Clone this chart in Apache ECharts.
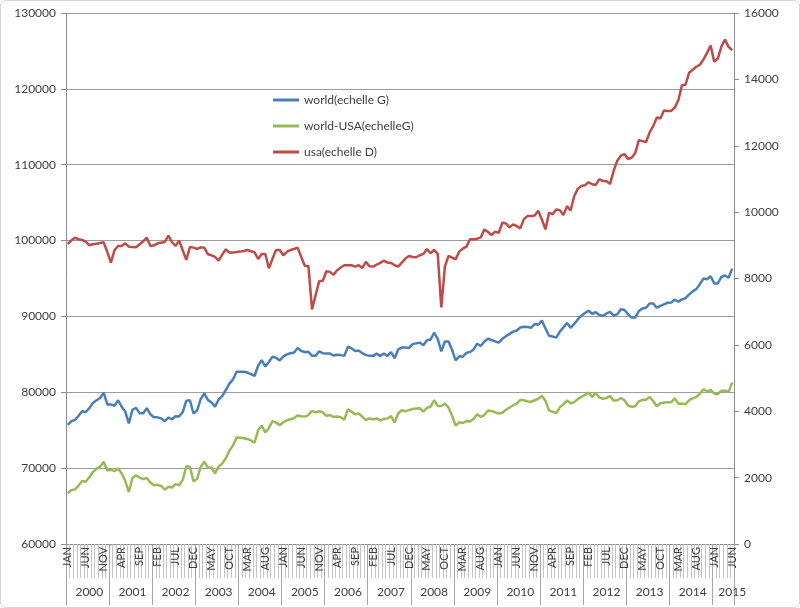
<!DOCTYPE html>
<html><head><meta charset="utf-8">
<script src="https://cdn.jsdelivr.net/npm/echarts@6/dist/echarts.min.js"></script>
<style>
html,body{margin:0;padding:0;background:#fff}
#c{width:800px;height:608px}
#frame{position:absolute;left:0;top:0;width:798px;height:606px;border:1px solid #d6d6d6;border-radius:6px;pointer-events:none}
</style>
</head><body><div id="c"></div><div id="frame"></div>
<script>
const monthNames = ['JAN','FEB','MAR','APR','MAY','JUN','JUL','AUG','SEP','OCT','NOV','DEC'];
const years = ['2000','2001','2002','2003','2004','2005','2006','2007','2008','2009','2010','2011','2012','2013','2014','2015'];
const monthCount = 186; // Jan 2000 .. Jun 2015

const world = [
75700,76200,76350,76900,77500,77400,77900,78600,78950,79250,79950,78400,
78400,78200,78950,78100,77450,75900,77700,77950,77250,77250,77900,77100,
76700,76700,76550,76200,76650,76450,76850,76800,77400,78900,78950,77200,
77600,79100,79850,79000,78650,78100,79050,79500,80300,81150,81700,82700,
82700,82700,82600,82400,82150,83500,84250,83400,84000,84700,84550,84200,
84700,85000,85150,85250,85850,85450,85300,85350,84800,84800,85400,85150,
85100,85100,84850,84950,84900,84800,86000,85800,85450,85500,85150,84900,
84800,84800,85100,84800,85100,84800,85300,84500,85650,85900,85900,85850,
86350,86450,86550,86200,86850,86950,87850,87050,85400,86700,86700,85600,
84200,84750,84700,85200,85300,85650,86400,86100,86700,87050,86900,86700,
86550,87050,87400,87700,88000,88150,88550,88650,88600,88500,89000,88900,
89450,88400,87450,87350,87200,88000,88550,89150,88500,89000,89600,90100,
90450,90750,90350,90550,90200,90050,90400,90600,90100,90300,90950,90850,
90300,89850,89850,90700,91050,91150,91700,91700,91150,91400,91600,91800,
91850,92200,91950,92250,92400,92900,93300,93600,94250,95000,94900,95300,
94350,94350,95200,95400,95100,96300
];
const worldExUSA = [
66700,67100,67200,67700,68300,68200,68800,69500,69900,70200,70850,69700,
69800,69600,69950,69300,68300,66850,68700,69050,68750,68550,68700,68100,
67750,67800,67650,67150,67550,67450,67900,67750,68450,70250,70200,68250,
68600,70150,70850,70100,70050,69300,70200,70600,71300,72300,73000,74050,
74000,73950,73850,73650,73350,75000,75600,74700,75300,76200,76000,75650,
76050,76300,76450,76600,76950,76850,76800,77000,77550,77350,77500,77350,
76900,77000,76750,76800,76700,76400,77750,77450,77100,77200,76800,76350,
76550,76450,76550,76300,76500,76550,76850,76000,77200,77650,77500,77650,
77800,77850,77900,77450,77950,78100,78950,78200,78200,78500,78000,76900,
75600,76050,75950,76200,76150,76500,77100,76750,77000,77600,77550,77350,
77200,77300,77700,78000,78300,78500,79000,78950,78800,78750,78950,79150,
79500,78900,77600,77450,77250,78000,78450,78900,78550,78700,79100,79400,
79650,79950,79400,79900,79300,79150,79250,79500,78900,78950,79250,78950,
78250,78100,78150,78800,79000,79000,79400,78850,78150,78550,78650,78700,
78700,79200,78500,78500,78450,78950,79200,79400,79800,80400,80100,80300,
79850,79750,80200,80200,80050,81300
];
const usa = [
9040,9150,9230,9180,9160,9110,9000,9030,9050,9070,9090,8800,
8480,8850,8980,8980,9060,8960,8950,8940,9030,9120,9230,8980,
9000,9060,9080,9100,9290,9100,8980,9140,8850,8560,8950,8930,
8890,8940,8930,8730,8700,8650,8540,8720,8880,8780,8780,8800,
8810,8830,8860,8820,8790,8590,8740,8740,8310,8600,8860,8860,
8700,8800,8860,8890,8930,8650,8380,8380,7070,7500,7920,7930,
8220,8200,8110,8250,8330,8400,8400,8400,8360,8400,8320,8500,
8370,8360,8420,8470,8540,8480,8470,8400,8360,8480,8600,8680,
8650,8640,8700,8740,8890,8760,8860,8740,7130,8360,8680,8630,
8580,8810,8900,8960,9180,9180,9200,9240,9480,9400,9310,9410,
9380,9680,9660,9540,9630,9580,9510,9790,9880,9880,9900,10040,
9780,9480,9980,9940,10080,10060,9910,10180,10050,10480,10700,10790,
10810,10900,10840,10820,10990,10940,10930,10850,11250,11550,11700,11750,
11600,11640,11780,12170,12140,12110,12400,12590,12850,12820,13060,13050,
13050,13150,13370,13820,13840,14200,14290,14380,14440,14600,14800,15020,
14530,14630,14990,15200,14980,14880
];
const seriesNames = ['world(echelle G)', 'world-USA(echelleG)', 'usa(echelle D)'];

// categories built from the month and year lists
const monthCats = [], yearCats = [];
for (let i = 0; i < monthCount; i++) {
  monthCats.push(monthNames[i % 12]);
  yearCats.push(years[Math.floor(i / 12)]);
}

const FONT = 'Lato, "Liberation Sans", sans-serif';
const TXT = '#404040';
const plain = function (v) { return String(v); };
const chart = echarts.init(document.getElementById('c'), null, {renderer: 'canvas'});
chart.setOption({
  animation: false,
  backgroundColor: '#ffffff',
  grid: {left: 66, right: 66, top: 13, bottom: 64, containLabel: false},
  legend: {
    orient: 'vertical', left: 268, top: 89, itemGap: 14,
    itemWidth: 26, itemHeight: 3, icon: 'rect',
    textStyle: {fontFamily: FONT, fontSize: 12, color: TXT},
    data: seriesNames
  },
  xAxis: [
    {
      type: 'category', data: monthCats, boundaryGap: true, position: 'bottom',
      axisLine: {show: true, lineStyle: {color: '#8c8c8c', width: 1}},
      axisTick: {show: true, interval: 0, length: 34, lineStyle: {color: '#c4c4c4', width: 1}},
      axisLabel: {interval: 4, rotate: 90, fontSize: 11, margin: 3, color: TXT, fontFamily: FONT},
      splitLine: {show: false}
    },
    {
      type: 'category', data: yearCats, boundaryGap: true, position: 'bottom', offset: 0,
      axisLine: {show: false},
      axisTick: {show: true, length: 61, interval: function (i) { return i % 12 === 0; },
                 lineStyle: {color: '#a6a6a6', width: 1}},
      axisLabel: {interval: function (i) { return i % 12 === 6 || i === monthCount - 1; },
                  fontSize: 12, margin: 42, color: TXT, fontFamily: FONT},
      splitLine: {show: false}
    }
  ],
  yAxis: [
    {
      type: 'value', position: 'left', min: 60000, max: 130000, interval: 10000,
      axisLine: {show: true, lineStyle: {color: '#8c8c8c'}},
      axisTick: {show: true, length: 5, lineStyle: {color: '#8c8c8c'}},
      axisLabel: {fontSize: 12, margin: 10, color: TXT, fontFamily: FONT, formatter: plain},
      splitLine: {show: true, lineStyle: {color: '#9c9c9c', width: 1}}
    },
    {
      type: 'value', position: 'right', min: 0, max: 16000, interval: 2000,
      axisLine: {show: true, lineStyle: {color: '#8c8c8c'}},
      axisTick: {show: true, length: 5, lineStyle: {color: '#8c8c8c'}},
      axisLabel: {fontSize: 12, margin: 10, color: TXT, fontFamily: FONT, formatter: plain},
      splitLine: {show: false}
    }
  ],
  series: [
    {name: seriesNames[0], type: 'line', data: world, yAxisIndex: 0, xAxisIndex: 0,
     showSymbol: false, symbol: 'none', color: '#4A7EBB', lineStyle: {width: 2.5, color: '#4A7EBB'}},
    {name: seriesNames[1], type: 'line', data: worldExUSA, yAxisIndex: 0, xAxisIndex: 0,
     showSymbol: false, symbol: 'none', color: '#98B954', lineStyle: {width: 2.5, color: '#98B954'}},
    {name: seriesNames[2], type: 'line', data: usa, yAxisIndex: 1, xAxisIndex: 0,
     showSymbol: false, symbol: 'none', color: '#BE4B48', lineStyle: {width: 2.5, color: '#BE4B48'}}
  ]
});
</script>
</body></html>
